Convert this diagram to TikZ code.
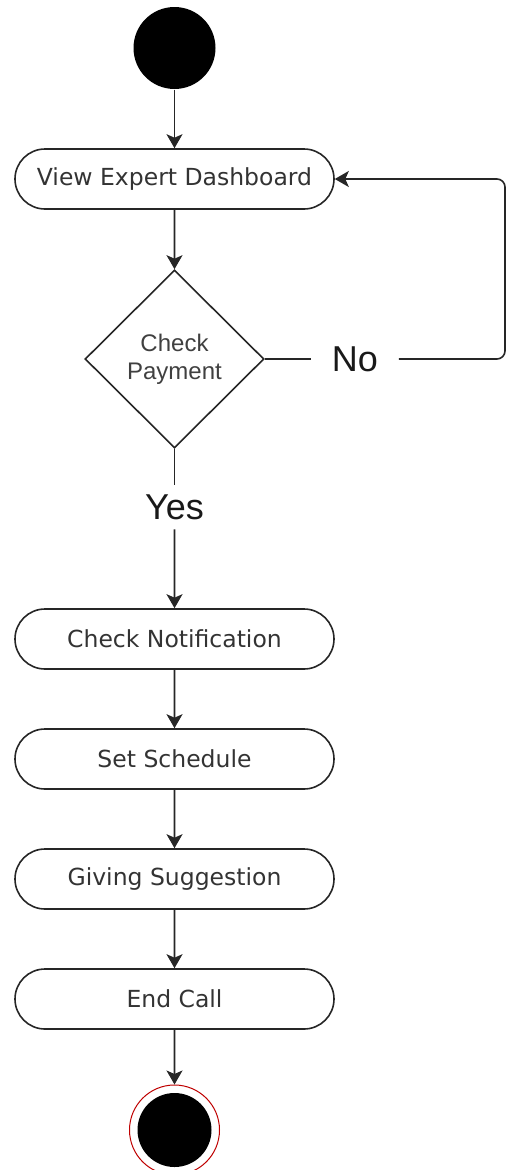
\documentclass[tikz,border=0pt]{standalone}
\usepackage{fontspec}
\setmainfont{DejaVu Sans}
\newfontfamily\arialfont{Liberation Sans}
\usetikzlibrary{arrows.meta, shapes.geometric, shapes.misc}

\begin{document}
\begin{tikzpicture}[
		x=1pt, y=-1pt, % pixel grid of the sketch
		line width=1.6pt,
		>={Stealth[length=14pt, width=16pt, inset=3.5pt]},
		action/.style={rounded rectangle, draw=black!85, text=black!80,
			minimum width=319pt, minimum height=60pt, inner sep=0pt, font=\fontsize{23.5}{27}\selectfont},
		decision/.style={diamond, draw=black!85, text=black!75, align=center,
			minimum width=179pt, minimum height=178pt, inner sep=0pt,
			font=\arialfont\fontsize{24}{28}\selectfont},
		guard/.style={text=black!90, inner sep=0pt, font=\arialfont\fontsize{36}{40}\selectfont},
		flow/.style={->, black!85}
		]
		
		% --- 1. Frame ---
		\useasboundingbox (0,0) rectangle (507,1170);
		
		% --- 2. Initial Node ---
		\node[circle, fill=black, minimum size=82pt, inner sep=0pt] (start) at (174.5,48) {};
		
		% --- 3. Actions and Decision ---
		\node[action] (dash) at (174.5,179) {View Expert Dashboard};
		\node[decision] (pay) at (174.5,359) {Check\\Payment};
		\node[action] (notif) at (174.5,639) {Check Notification};
		\node[action] (sched) at (174.5,759) {Set Schedule};
		\node[action] (sugg) at (174.5,879) {Giving Suggestion};
		\node[action] (endcall) at (174.5,999) {End Call};
		
		% --- 4. Guards ---
		\node[guard, inner xsep=20pt] (no) at (355,359) {No};
		\node[guard, inner ysep=9pt] (yes) at (174.5,507) {Yes};
		\coordinate (ret) at (505,359);
		
		% --- 5. Final Node ---
		\node[circle, draw=red!75!black, line width=1pt, fill=white, minimum size=90pt, inner sep=0pt] (stop) at (174.5,1130) {};
		\node[circle, fill=black, minimum size=74pt, inner sep=0pt] at (stop) {};
		
		% --- 6. Control Flow ---
		\draw[flow] (start) -- (dash);
		\draw[flow] (dash) -- (pay);
		\draw[black!85] (pay.east) -- (no.west);
		\draw[flow, rounded corners=8pt] (no.east) -- (ret) |- (dash.east);
		\draw[black!85] (pay.south) -- (yes.north);
		\draw[flow] (yes.south) -- (notif);
		\draw[flow] (notif) -- (sched);
		\draw[flow] (sched) -- (sugg);
		\draw[flow] (sugg) -- (endcall);
		\draw[flow] (endcall) -- (stop);
		
	\end{tikzpicture}
\end{document}
